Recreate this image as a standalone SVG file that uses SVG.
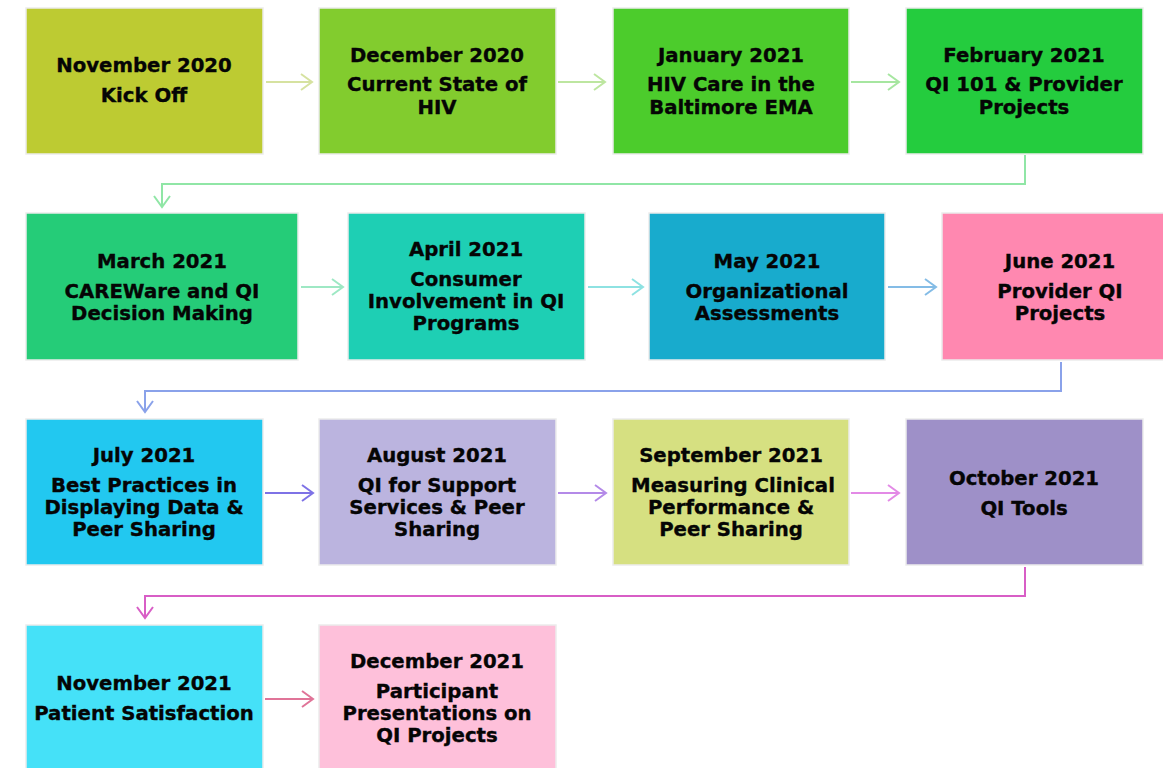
<svg xmlns="http://www.w3.org/2000/svg" width="1163" height="768" viewBox="0 0 1163 768">
<style>
.box{stroke:#ececec;stroke-width:1.5}
text{font-family:Verdana,"DejaVu Sans",sans-serif;font-weight:bold;font-size:19.7px;fill:#050505;stroke:#050505;stroke-width:0.35;text-anchor:middle}
.c{fill:none;stroke-width:2}
</style>
<defs>
<marker id="m1" markerUnits="userSpaceOnUse" viewBox="0 0 14 18" markerWidth="14" markerHeight="18" refX="12" refY="9" orient="auto"><path d="M1,1 L12,9 L1,17" fill="none" stroke="#d6e2a0" stroke-width="2"/></marker>
<marker id="m2" markerUnits="userSpaceOnUse" viewBox="0 0 14 18" markerWidth="14" markerHeight="18" refX="12" refY="9" orient="auto"><path d="M1,1 L12,9 L1,17" fill="none" stroke="#bde6a0" stroke-width="2"/></marker>
<marker id="m3" markerUnits="userSpaceOnUse" viewBox="0 0 14 18" markerWidth="14" markerHeight="18" refX="12" refY="9" orient="auto"><path d="M1,1 L12,9 L1,17" fill="none" stroke="#a6e6a0" stroke-width="2"/></marker>
<marker id="m4" markerUnits="userSpaceOnUse" viewBox="0 0 14 18" markerWidth="14" markerHeight="18" refX="12" refY="9" orient="auto"><path d="M1,1 L12,9 L1,17" fill="none" stroke="#90e6a6" stroke-width="2"/></marker>
<marker id="m5" markerUnits="userSpaceOnUse" viewBox="0 0 14 18" markerWidth="14" markerHeight="18" refX="12" refY="9" orient="auto"><path d="M1,1 L12,9 L1,17" fill="none" stroke="#9ee8c4" stroke-width="2"/></marker>
<marker id="m6" markerUnits="userSpaceOnUse" viewBox="0 0 14 18" markerWidth="14" markerHeight="18" refX="12" refY="9" orient="auto"><path d="M1,1 L12,9 L1,17" fill="none" stroke="#8ee2e2" stroke-width="2"/></marker>
<marker id="m7" markerUnits="userSpaceOnUse" viewBox="0 0 14 18" markerWidth="14" markerHeight="18" refX="12" refY="9" orient="auto"><path d="M1,1 L12,9 L1,17" fill="none" stroke="#84bce6" stroke-width="2"/></marker>
<marker id="m8" markerUnits="userSpaceOnUse" viewBox="0 0 14 18" markerWidth="14" markerHeight="18" refX="12" refY="9" orient="auto"><path d="M1,1 L12,9 L1,17" fill="none" stroke="#8aa2ea" stroke-width="2"/></marker>
<marker id="m9" markerUnits="userSpaceOnUse" viewBox="0 0 14 18" markerWidth="14" markerHeight="18" refX="12" refY="9" orient="auto"><path d="M1,1 L12,9 L1,17" fill="none" stroke="#7e72e6" stroke-width="2"/></marker>
<marker id="m10" markerUnits="userSpaceOnUse" viewBox="0 0 14 18" markerWidth="14" markerHeight="18" refX="12" refY="9" orient="auto"><path d="M1,1 L12,9 L1,17" fill="none" stroke="#b48ae8" stroke-width="2"/></marker>
<marker id="m11" markerUnits="userSpaceOnUse" viewBox="0 0 14 18" markerWidth="14" markerHeight="18" refX="12" refY="9" orient="auto"><path d="M1,1 L12,9 L1,17" fill="none" stroke="#e38ae6" stroke-width="2"/></marker>
<marker id="m12" markerUnits="userSpaceOnUse" viewBox="0 0 14 18" markerWidth="14" markerHeight="18" refX="12" refY="9" orient="auto"><path d="M1,1 L12,9 L1,17" fill="none" stroke="#d85ec6" stroke-width="2"/></marker>
<marker id="m13" markerUnits="userSpaceOnUse" viewBox="0 0 14 18" markerWidth="14" markerHeight="18" refX="12" refY="9" orient="auto"><path d="M1,1 L12,9 L1,17" fill="none" stroke="#e07498" stroke-width="2"/></marker>
</defs>
<rect width="1163" height="768" fill="#fff"/>
<g id="connectors">
<path class="c" d="M266,82 H312" stroke="#d6e2a0" marker-end="url(#m1)"/>
<path class="c" d="M558,82 H605" stroke="#bde6a0" marker-end="url(#m2)"/>
<path class="c" d="M851,82 H899" stroke="#a6e6a0" marker-end="url(#m3)"/>
<path class="c" d="M1025,155 V184 H162 V207" stroke="#90e6a6" marker-end="url(#m4)"/>
<path class="c" d="M301,287 H343" stroke="#9ee8c4" marker-end="url(#m5)"/>
<path class="c" d="M588,287 H643" stroke="#8ee2e2" marker-end="url(#m6)"/>
<path class="c" d="M888,287 H936" stroke="#84bce6" marker-end="url(#m7)"/>
<path class="c" d="M1061,362 V391 H145 V412" stroke="#8aa2ea" marker-end="url(#m8)"/>
<path class="c" d="M265,493 H313" stroke="#7e72e6" marker-end="url(#m9)"/>
<path class="c" d="M558,493 H606" stroke="#b48ae8" marker-end="url(#m10)"/>
<path class="c" d="M851,493 H899" stroke="#e38ae6" marker-end="url(#m11)"/>
<path class="c" d="M1025,567 V596 H145 V618" stroke="#d85ec6" marker-end="url(#m12)"/>
<path class="c" d="M265,699 H313" stroke="#e07498" marker-end="url(#m13)"/>
</g>
<g id="n1"><rect class="box" x="26" y="8" width="237" height="146" fill="#bdcb32"/><text x="144" y="72">November 2020</text><text x="144" y="102">Kick Off</text></g>
<g id="n2"><rect class="box" x="319" y="8" width="237" height="146" fill="#82cc2e"/><text x="437" y="62">December 2020</text><text x="437" y="91">Current State of</text><text x="437" y="114">HIV</text></g>
<g id="n3"><rect class="box" x="613" y="8" width="236" height="146" fill="#4ccc2c"/><text x="731" y="62">January 2021</text><text x="731" y="91">HIV Care in the</text><text x="731" y="114">Baltimore EMA</text></g>
<g id="n4"><rect class="box" x="906" y="8" width="237" height="146" fill="#24cc3e"/><text x="1024" y="62">February 2021</text><text x="1024" y="91">QI 101 &amp; Provider</text><text x="1024" y="114">Projects</text></g>
<g id="n5"><rect class="box" x="26" y="213" width="272" height="147" fill="#25cc78"/><text x="162" y="268">March 2021</text><text x="162" y="298">CAREWare and QI</text><text x="162" y="320">Decision Making</text></g>
<g id="n6"><rect class="box" x="348" y="213" width="237" height="147" fill="#1ecfb4"/><text x="466" y="256">April 2021</text><text x="466" y="286">Consumer</text><text x="466" y="308">Involvement in QI</text><text x="466" y="330">Programs</text></g>
<g id="n7"><rect class="box" x="649" y="213" width="236" height="147" fill="#18abcd"/><text x="767" y="268">May 2021</text><text x="767" y="298">Organizational</text><text x="767" y="320">Assessments</text></g>
<g id="n8"><rect class="box" x="942" y="213" width="237" height="147" fill="#ff88b0"/><text x="1060" y="268">June 2021</text><text x="1060" y="298">Provider QI</text><text x="1060" y="320">Projects</text></g>
<g id="n9"><rect class="box" x="26" y="419" width="237" height="146" fill="#22c8f0"/><text x="144" y="462">July 2021</text><text x="144" y="492">Best Practices in</text><text x="144" y="514">Displaying Data &amp;</text><text x="144" y="536">Peer Sharing</text></g>
<g id="n10"><rect class="box" x="319" y="419" width="237" height="146" fill="#bbb4df"/><text x="437" y="462">August 2021</text><text x="437" y="492">QI for Support</text><text x="437" y="514">Services &amp; Peer</text><text x="437" y="536">Sharing</text></g>
<g id="n11"><rect class="box" x="613" y="419" width="236" height="146" fill="#d6e081"/><text x="731" y="462">September 2021</text><text x="733" y="492">Measuring Clinical</text><text x="731" y="514">Performance &amp;</text><text x="731" y="536">Peer Sharing</text></g>
<g id="n12"><rect class="box" x="906" y="419" width="237" height="146" fill="#9e90c8"/><text x="1024" y="485">October 2021</text><text x="1024" y="515">QI Tools</text></g>
<g id="n13"><rect class="box" x="26" y="625" width="237" height="150" fill="#45e1f8"/><text x="144" y="690">November 2021</text><text x="144" y="720">Patient Satisfaction</text></g>
<g id="n14"><rect class="box" x="319" y="625" width="237" height="150" fill="#fec0da"/><text x="437" y="668">December 2021</text><text x="437" y="698">Participant</text><text x="437" y="720">Presentations on</text><text x="437" y="742">QI Projects</text></g>
</svg>
